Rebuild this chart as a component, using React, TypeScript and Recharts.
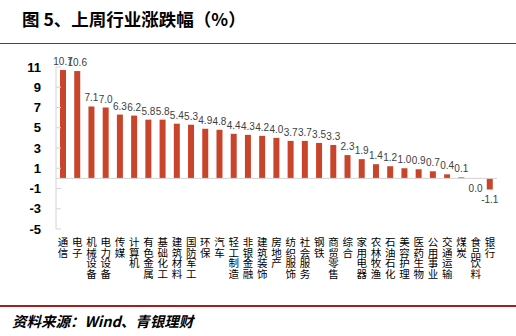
import React from "react";
import { BarChart, Bar, XAxis, YAxis, ReferenceLine, LabelList } from "recharts";

const categories = [
  "通信", "电子", "机械设备", "电力设备", "传媒", "计算机", "有色金属", "基础化工",
  "建筑材料", "国防军工", "环保", "汽车", "轻工制造", "非银金融", "建筑装饰", "房地产",
  "纺织服饰", "社会服务", "钢铁", "商贸零售", "综合", "家用电器", "农林牧渔", "石油石化",
  "美容护理", "医药生物", "公用事业", "交通运输", "煤炭", "食品饮料", "银行",
];
const values = [
  10.7, 10.6, 7.1, 7.0, 6.3, 6.2, 5.8, 5.8,
  5.4, 5.3, 4.9, 4.8, 4.4, 4.3, 4.2, 4.0,
  3.7, 3.7, 3.5, 3.3, 2.3, 1.9, 1.4, 1.2,
  1.0, 0.9, 0.7, 0.4, 0.1, -0.04, -1.1,
];
const yTicks = [-5, -3, -1, 1, 3, 5, 7, 9, 11];

const data = categories.map((name, i) => ({ name, value: values[i] }));

const BAR_COLOR = "#C8452B";
const RULE_COLOR = "#A3201E";

const YTick = (props: any) => {
  const { x, y, payload } = props;
  return (
    <g>
      <line x1={x + 15} x2={x + 20} y1={y} y2={y} stroke="#d4d4d4" />
      <text
        x={x}
        y={y}
        dy={4.5}
        textAnchor="end"
        fontFamily="'Liberation Sans', Arial, sans-serif"
        fontWeight="bold"
        fontSize={13}
        fill="#000"
      >
        {payload.value}
      </text>
    </g>
  );
};

const XTick = (props: any) => {
  const { x, y, payload } = props;
  const chars = String(payload.value).split("");
  return (
    <g>
      {chars.map((c, i) => (
        <text
          key={i}
          x={x}
          y={y + 17 + i * 10.6}
          textAnchor="middle"
          fontFamily="'Noto Sans CJK SC', sans-serif"
          fontSize={10.5}
          fill="#000"
        >
          {c}
        </text>
      ))}
    </g>
  );
};

const fmt = (v: number) => {
  const s = Number(v).toFixed(1);
  return s === "-0.0" ? "0.0" : s;
};

const ValueLabel = (props: any) => {
  const { x, y, width, height, value } = props;
  const top = Math.min(y, y + height);
  const bottom = Math.max(y, y + height);
  const ty = value >= 0 ? top - 5 : bottom + 13.5;
  return (
    <text
      x={x + width / 2}
      y={ty}
      textAnchor="middle"
      fontFamily="'Liberation Sans', Arial, sans-serif"
      fontSize={10}
      fill="#404040"
    >
      {fmt(value)}
    </text>
  );
};

export default function App() {
  return (
    <div
      style={{
        position: "absolute",
        left: 0,
        top: 0,
        width: 516,
        height: 336,
        background: "#fff",
        overflow: "hidden",
      }}
    >
      <div
        style={{
          position: "absolute",
          left: 22,
          top: 7,
          fontFamily: "'Noto Sans CJK SC', sans-serif",
          fontWeight: "bold",
          fontSize: 17.5,
          lineHeight: "24px",
          color: "#000",
          whiteSpace: "nowrap",
        }}
      >
        图 5、上周行业涨跌幅（%）
      </div>
      <div
        style={{
          position: "absolute",
          left: 0,
          top: 42.5,
          width: 516,
          height: 1.5,
          background: RULE_COLOR,
        }}
      />
      <div style={{ position: "absolute", left: 0, top: 0 }}>
        <BarChart
          width={516}
          height={336}
          data={data}
          margin={{ top: 67, right: 19, bottom: 47, left: 0 }}
          barSize={6}
        >
          <XAxis
            dataKey="name"
            interval={0}
            axisLine={false}
            tickLine={false}
            tickSize={0}
            tickMargin={0}
            height={60}
            tick={<XTick />}
          />
          <YAxis
            width={56}
            domain={[-5, 11]}
            ticks={yTicks}
            interval={0}
            allowDataOverflow
            axisLine={{ stroke: "#d4d4d4" }}
            tickLine={false}
            tickSize={0}
            tickMargin={15}
            tick={<YTick />}
          />
          <ReferenceLine y={0} stroke="#d4d4d4" />
          <Bar dataKey="value" fill={BAR_COLOR} isAnimationActive={false}>
            <LabelList dataKey="value" content={<ValueLabel />} />
          </Bar>
        </BarChart>
      </div>
      <div
        style={{
          position: "absolute",
          left: 0,
          top: 305,
          width: 516,
          height: 1.5,
          background: RULE_COLOR,
        }}
      />
      <div
        style={{
          position: "absolute",
          left: 12,
          top: 311,
          fontFamily: "'Noto Sans CJK SC', sans-serif",
          fontWeight: "bold",
          fontStyle: "italic",
          fontSize: 14.5,
          lineHeight: "20px",
          color: "#000",
          whiteSpace: "nowrap",
        }}
      >
        资料来源：Wind、青银理财
      </div>
    </div>
  );
}
